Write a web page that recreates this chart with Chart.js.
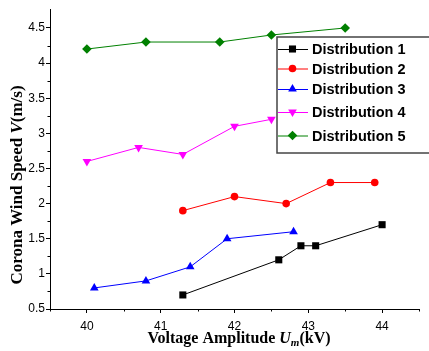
<!DOCTYPE html>
<html>
<head>
<meta charset="utf-8">
<script src="https://cdn.jsdelivr.net/npm/chart.js@4/dist/chart.umd.min.js"></script>
<style>
html, body { margin: 0; padding: 0; background: #fff; }
</style>
</head>
<body>
<canvas id="chart" width="429" height="351"></canvas>
<script>
// series
const seriesNames = ['Distribution 1', 'Distribution 2', 'Distribution 3', 'Distribution 4', 'Distribution 5'];
const voltage1 = [41.3, 42.6, 42.9, 43.1, 44.0];
const speed1 = [0.7, 1.2, 1.4, 1.4, 1.7];
const voltage2 = [41.3, 42.0, 42.7, 43.3, 43.9];
const speed2 = [1.9, 2.1, 2.0, 2.3, 2.3];
const voltage3 = [40.1, 40.8, 41.4, 41.9, 42.8];
const speed3 = [0.8, 0.9, 1.1, 1.5, 1.6];
const voltage4 = [40.0, 40.7, 41.3, 42.0, 42.5];
const speed4 = [2.6, 2.8, 2.7, 3.1, 3.2];
const voltage5 = [40.0, 40.8, 41.8, 42.5, 43.5];
const speed5 = [4.2, 4.3, 4.3, 4.4, 4.5];

const xMin = 39.5;
const xMax = 44.5;
const yMin = 0.5;
const yMax = 4.77;

const colors = ['#000000', '#ff0000', '#0000ff', '#ff00ff', '#008000'];
const pointStyles = ['rect', 'circle', 'triangle', 'triangle', 'rectRot'];
const pointRotations = [0, 0, 0, 180, 0];
const pointRadii = [5, 3.8, 5, 5, 4.8];

const allX = [voltage1, voltage2, voltage3, voltage4, voltage5];
const allY = [speed1, speed2, speed3, speed4, speed5];

const datasets = seriesNames.map((name, i) => ({
    label: name,
    data: allX[i].map((x, j) => ({ x: x, y: allY[i][j] })),
    borderColor: colors[i],
    backgroundColor: colors[i],
    borderWidth: 1,
    pointStyle: pointStyles[i],
    rotation: pointRotations[i],
    pointRadius: pointRadii[i],
    pointBorderWidth: 0,
    showLine: true,
    tension: 0
}));

function isMultiple (value, step) {
    const r = value / step;
    return Math.abs(r - Math.round(r)) < 1e-6;
}

function drawRich (ctx, parts, x, y, rotate) {
    ctx.save();
    ctx.translate(x, y);
    if (rotate) {
        ctx.rotate(-Math.PI / 2);
    }
    let total = 0;
    parts.forEach(p => {
        ctx.font = p.font;
        total += ctx.measureText(p.text).width;
    });
    let cx = -total / 2;
    ctx.fillStyle = '#000';
    ctx.textBaseline = 'alphabetic';
    ctx.textAlign = 'left';
    parts.forEach(p => {
        ctx.font = p.font;
        ctx.fillText(p.text, cx, p.dy || 0);
        cx += ctx.measureText(p.text).width;
    });
    ctx.restore();
}

const decorations = {
    id: 'decorations',
    afterDraw (chart) {
        const ctx = chart.ctx;
        const xs = chart.scales.x;
        const ys = chart.scales.y;

        // minor ticks, shorter than major ones
        ctx.save();
        ctx.strokeStyle = '#000';
        ctx.lineWidth = 1;
        ctx.beginPath();
        xs.ticks.forEach(t => {
            if (!isMultiple(t.value, 1)) {
                const px = Math.round(xs.getPixelForValue(t.value)) + 0.5;
                ctx.moveTo(px, xs.top);
                ctx.lineTo(px, xs.top + 2.5);
            }
        });
        ys.ticks.forEach(t => {
            if (!isMultiple(t.value, 0.5)) {
                const py = Math.round(ys.getPixelForValue(t.value)) + 0.5;
                ctx.moveTo(ys.right, py);
                ctx.lineTo(ys.right - 2.5, py);
            }
        });
        ctx.stroke();
        ctx.restore();

        // axis titles
        const serif = '"Liberation Serif", "Times New Roman", serif';
        drawRich(ctx, [
            { text: 'Voltage Amplitude ', font: 'bold 16px ' + serif },
            { text: 'U', font: 'italic bold 16px ' + serif },
            { text: 'm', font: 'italic bold 11px ' + serif, dy: 3 },
            { text: '(kV)', font: 'bold 16px ' + serif }
        ], 239, 343, false);
        drawRich(ctx, [
            { text: 'Corona Wind Speed ', font: 'bold 17px ' + serif },
            { text: 'V', font: 'italic bold 17px ' + serif },
            { text: '(m/s)', font: 'bold 17px ' + serif }
        ], 22, 185, true);

        // legend box
        const boxLeft = 277;
        const boxTop = 37;
        const boxBottom = 153;
        ctx.save();
        ctx.fillStyle = '#fff';
        ctx.fillRect(boxLeft, boxTop, 200, boxBottom - boxTop);
        ctx.strokeStyle = '#444';
        ctx.lineWidth = 1.5;
        ctx.strokeRect(boxLeft, boxTop, 200, boxBottom - boxTop);

        const rowY = [49, 68.5, 89, 112, 135.5];
        seriesNames.forEach((name, i) => {
            const y = rowY[i];
            ctx.strokeStyle = colors[i];
            ctx.fillStyle = colors[i];
            ctx.lineWidth = 1;
            ctx.beginPath();
            ctx.moveTo(boxLeft + 1, y + 0.5);
            ctx.lineTo(308, y + 0.5);
            ctx.stroke();
            Chart.helpers.drawPoint(ctx, {
                pointStyle: pointStyles[i],
                rotation: pointRotations[i],
                radius: pointRadii[i],
                borderWidth: 0
            }, 292.5, y);
            ctx.fillStyle = '#000';
            ctx.font = 'bold 14.5px "Liberation Sans", Arial, sans-serif';
            ctx.textBaseline = 'middle';
            ctx.textAlign = 'left';
            ctx.fillText(name, 312, y + 1);
        });
        ctx.restore();
    }
};

const tickFont = { family: '"Liberation Sans", Arial, sans-serif', size: 12 };

new Chart(
    document.getElementById('chart'),
    {
        type: 'scatter',
        data: { datasets: datasets },
        options: {
            responsive: false,
            animation: false,
            devicePixelRatio: 1,
            layout: {
                padding: { left: 0, top: 9, right: 10, bottom: 0 }
            },
            plugins: {
                legend: { display: false },
                title: { display: false },
                tooltip: { enabled: false }
            },
            scales: {
                x: {
                    type: 'linear',
                    min: xMin,
                    max: xMax,
                    afterFit: scale => { scale.height = 42; },
                    border: { color: '#000', width: 1 },
                    grid: {
                        drawOnChartArea: false,
                        drawTicks: true,
                        tickLength: 4,
                        tickWidth: 1,
                        tickColor: c => isMultiple(c.tick.value, 1) ? '#000' : 'rgba(0,0,0,0)'
                    },
                    ticks: {
                        stepSize: 0.5,
                        autoSkip: false,
                        maxRotation: 0,
                        padding: 6,
                        color: '#000',
                        font: tickFont,
                        callback: value => isMultiple(value, 1) ? String(Math.round(value)) : ''
                    }
                },
                y: {
                    type: 'linear',
                    min: yMin,
                    max: yMax,
                    afterFit: scale => { scale.width = 50; },
                    afterBuildTicks: scale => {
                        scale.ticks = scale.ticks.filter(t => isMultiple(t.value, 0.25));
                    },
                    border: { color: '#000', width: 1 },
                    grid: {
                        drawOnChartArea: false,
                        drawTicks: true,
                        tickLength: 4,
                        tickWidth: 1,
                        tickColor: c => isMultiple(c.tick.value, 0.5) ? '#000' : 'rgba(0,0,0,0)'
                    },
                    ticks: {
                        stepSize: 0.25,
                        autoSkip: false,
                        padding: 1,
                        color: '#000',
                        font: tickFont,
                        callback: value => isMultiple(value, 0.5) ? String(Math.round(value * 100) / 100) : ''
                    }
                }
            }
        },
        plugins: [decorations]
    }
);
</script>
</body>
</html>
